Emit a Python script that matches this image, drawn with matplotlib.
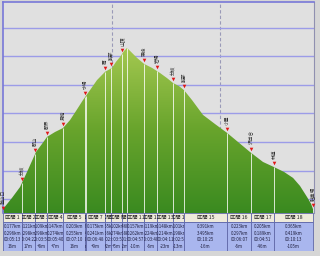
import numpy as np
import matplotlib
matplotlib.use('Agg')
import matplotlib.pyplot as plt
from matplotlib.patches import Polygon, Rectangle
from matplotlib.colors import LinearSegmentedColormap
from matplotlib.transforms import offset_copy

plt.rcParams['font.family'] = ['Noto Sans CJK JP', 'DejaVu Sans']

# profile (km, m)
prof_km = [0, 0.009, 0.083, 0.157, 0.230, 0.304, 0.359, 0.406, 0.479, 0.553, 0.618,
           0.673, 0.737, 0.802, 0.866, 0.940, 1.005, 1.041, 1.078, 1.115, 1.143, 1.180,
           1.235, 1.300, 1.373, 1.447, 1.512, 1.567, 1.622, 1.668, 1.742, 1.843, 1.954,
           2.065, 2.166, 2.276, 2.396, 2.498, 2.590, 2.673, 2.737, 2.802, 2.839, 2.866]
prof_m = [455, 469, 504, 542, 602, 665, 693, 718, 735, 749, 777,
          809, 847, 882, 917, 946, 960, 981, 998, 1019, 1030, 1016,
          995, 974, 960, 942, 924, 907, 896, 882, 847, 795, 763,
          732, 700, 665, 630, 612, 595, 574, 546, 507, 483, 455]

# waypoints
wp_km = [0, 0.175, 0.295, 0.406, 0.553, 0.756, 0.765, 0.940, 0.995, 1.097, 1.143,
         1.300, 1.419, 1.567, 1.668, 2.065, 2.286, 2.498, 2.857]
wp_name = ['登山口', '分岐', '郡山', '郡界', '見晴', '水場', '', '肩', '鞍部', '山頂', '',
           '東峰', '岩場', '分岐', '鞍部', '小屋', '沢出合', '林道', '駐車場']

seg_name = ['区間 %d' % i for i in range(1, 19)]
seg_dist = ['0.177km', '0.121km', '0.109km', '0.147km', '0.203km', '0.009km', '0.175km',
            '0.055km', '0.102km', '0.046km', '0.157km', '0.119km', '0.148km', '0.101km',
            '0.391km', '0.223km', '0.205km', '0.365km']
seg_dist2 = ['0.296km', '0.298km', '0.298km', '0.274km', '0.255km', '0.264km', '0.241km',
             '0.256km', '0.274km', '0.258km', '0.262km', '0.224km', '0.214km', '0.198km',
             '3.495km', '0.297km', '0.189km', '0.419km']
seg_time = ['00:05:13', '00:04:22', '00:03:58', '00:05:40', '00:07:10', '00:00:21',
            '00:06:48', '00:02:05', '00:03:55', '00:01:45', '00:04:57', '00:03:40',
            '00:04:11', '00:02:52', '00:10:25', '00:06:07', '00:04:51', '00:10:13']
seg_elev = ['16m', '17m', '+8m', '+7m', '16m', '+1m', '+9m', '+2m', '+5m', '+2m',
            '-10m', '-6m', '-23m', '-13m', '-16m', '-6m', '-46m', '-105m']

xmax = 2.866
ylo, yhi = 451, 1191

fig = plt.figure(figsize=(3.2, 2.56), dpi=100)
fig.patch.set_facecolor('#d6d6d6')

L, R = 3 / 320, 314 / 320
ax = fig.add_axes([L, 1 - 213 / 256, R - L, 211 / 256])
ax.set_facecolor('#e0e0e0')
ax.set_xlim(0, xmax)
ax.set_ylim(ylo, yhi)
ax.set_yticks(range(500, 1200, 100))
ax.set_xticks([1, 2])
ax.tick_params(length=0, labelleft=False, labelbottom=False)
ax.yaxis.grid(True, color='#9c9ce8', lw=1.0)
ax.xaxis.grid(True, color='#9a9ab8', lw=0.8, ls=(0, (3, 2)))
ax.set_axisbelow(True)
for s in ['left', 'top']:
    ax.spines[s].set_color('#7878d8')
    ax.spines[s].set_linewidth(1.2)
ax.spines['right'].set_color('#9090b0')
ax.spines['bottom'].set_visible(False)

# green gradient fill
verts = np.column_stack([[0] + prof_km + [xmax], [ylo] + prof_m + [ylo]])
poly = Polygon(verts, closed=True, facecolor='none', edgecolor='none')
ax.add_patch(poly)
cmap = LinearSegmentedColormap.from_list('g', ['#3a8a20', '#68a42c', '#a4c850'])
grad = np.linspace(0, 1, 256).reshape(-1, 1)
im = ax.imshow(grad, extent=[0, xmax, ylo, max(prof_m)], origin='lower',
               aspect='auto', cmap=cmap, zorder=1)
im.set_clip_path(poly)

wp_m = np.interp(wp_km, prof_km, prof_m)
ax.vlines(wp_km, ylo, wp_m, colors='white', lw=0.7, alpha=0.8, zorder=2)

# markers sit a few pixels above the line
lifted = offset_copy(ax.transData, fig=fig, y=4, units='dots')
for k, m, name in zip(wp_km, wp_m, wp_name):
    if not name:
        continue
    ax.plot([k, k], [m, m], color='white', lw=0.7, alpha=0.8, zorder=2)
    ax.plot([k], [m], marker='v', color='#e01818', ms=2.6, mew=0,
            transform=lifted, zorder=4, clip_on=False)
    ax.annotate(name, (k, m), xytext=(0, 6), textcoords='offset points',
                rotation=90, ha='center', va='bottom', fontsize=3.4,
                color='#303030', zorder=5)

# segment table
tax = fig.add_axes([L, 1 - 251 / 256, R - L, 38 / 256])
tax.set_xlim(0, xmax)
tax.set_ylim(0, 1)
tax.axis('off')
hb = 1 - 9 / 38
for i in range(len(seg_name)):
    x0, x1 = wp_km[i], wp_km[i + 1]
    head = Rectangle((x0, hb), x1 - x0, 1 - hb, facecolor='#eeeadb',
                     edgecolor='#6068a8', lw=0.6)
    body = Rectangle((x0, 0), x1 - x0, hb, facecolor='#a9b6ee',
                     edgecolor='#6068a8', lw=0.6)
    tax.add_patch(head)
    tax.add_patch(body)
    xc = (x0 + x1) / 2
    t = tax.text(xc, (1 + hb) / 2, seg_name[i], ha='center', va='center',
                 fontsize=3.8, color='#202020', clip_on=True)
    t.set_clip_path(head)
    rows = [seg_dist[i], seg_dist2[i], seg_time[i], seg_elev[i]]
    for j, s in enumerate(rows):
        t = tax.text(xc, hb - (j + 0.6) * hb / 4.2, s, ha='center', va='center',
                     fontsize=3.2, color='#202040', clip_on=True)
        t.set_clip_path(body)

fig.savefig('out.png', dpi=100, facecolor=fig.get_facecolor())
